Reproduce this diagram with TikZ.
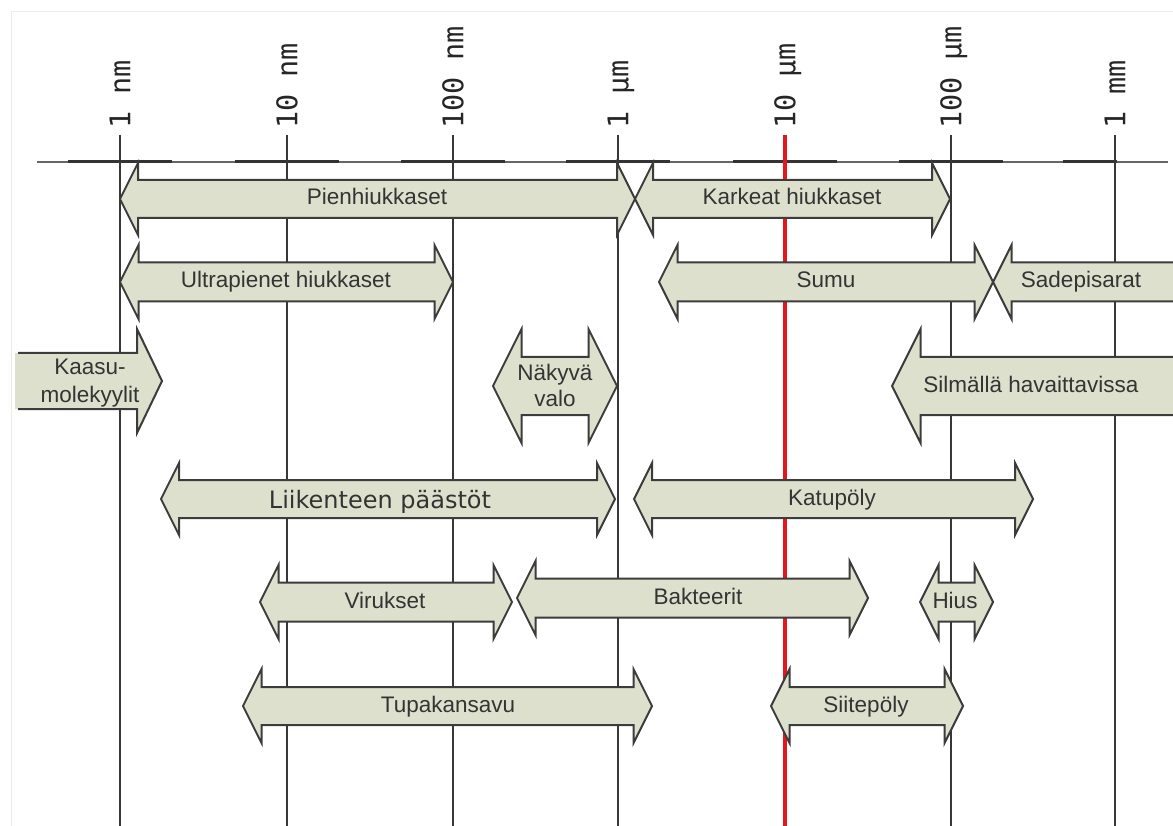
\documentclass[tikz,border=0pt]{standalone}
\usepackage{fontspec}
\setmainfont{Liberation Sans}
\newfontfamily\verafont{DejaVu Sans}
\newfontfamily\scalemono{DejaVu Sans Mono}

\definecolor{barfill}{RGB}{221,224,205}
\definecolor{barline}{RGB}{60,60,60}
\definecolor{gridline}{RGB}{55,55,55}
\definecolor{tenred}{RGB}{228,22,30}
\definecolor{labeltext}{RGB}{52,52,52}

\tikzset{
  bar/.style={fill=barfill, draw=barline, line width=2pt},
  barlabel/.style={text=labeltext, font=\fontsize{22.5}{28}\selectfont, inner sep=0pt, text height=16pt, text depth=0pt},
  twolabel/.style={text=labeltext, font=\fontsize{22.5}{28}\selectfont, inner sep=0pt, align=center},
  scalelabel/.style={font=\scalemono\fontsize{28.5}{30}\selectfont, rotate=90, anchor=base west, inner sep=0pt, text=black!85},
  gridl/.style={draw=gridline, line width=1.5pt},
  axisthin/.style={draw=black!60, line width=1.5pt},
  axisthick/.style={draw=black!80, line width=3pt},
}

% double arrow: left tip, right tip, y, shaft half height, head half height
\newcommand{\sizebar}[5]{%
  \filldraw[bar] (#1,#3) -- ++(#5/2,-#5) -- ++(0,#5-#4) -- (#2-#5/2,#3-#4) -- ++(0,#4-#5) -- (#2,#3)
    -- ++(-#5/2,#5) -- ++(0,#4-#5) -- (#1+#5/2,#3+#4) -- ++(0,#5-#4) -- cycle;}

\begin{document}
\begin{tikzpicture}[x=1pt,y=-1pt]

\useasboundingbox (0,0) rectangle (1173,826);
\clip (0,0) rectangle (1173,826);

\draw[black!8] (11,826) -- (11,11) -- (1173,11);

%%%%%%%%%%%%%%%%%%%%%%%%
% scale
%%%%%%%%%%%%%%%%%%%%%%%%

\draw[axisthin] (37,162) -- (1168,162);
\draw[axisthick] (68,162) -- (172,162);
\draw[axisthick] (235,162) -- (339,162);
\draw[axisthick] (401,162) -- (505,162);
\draw[axisthick] (566,162) -- (670,162);
\draw[axisthick] (733,162) -- (837,162);
\draw[axisthick] (899,162) -- (1003,162);
\draw[axisthick] (1063,162) -- (1117,162);

\draw[gridl] (120,135) -- (120,826);
\draw[gridl] (287,135) -- (287,826);
\draw[gridl] (453,135) -- (453,826);
\draw[gridl] (618,135) -- (618,826);
\draw[gridl] (951,135) -- (951,826);
\draw[gridl] (1115,135) -- (1115,826);
\draw[tenred, line width=4pt] (785,135) -- (785,826);

\node[scalelabel](1nm) at (130.4,129) {1 nm};
\node[scalelabel](10nm) at (297.4,129) {10 nm};
\node[scalelabel](100nm) at (463.4,129) {100 nm};
\node[scalelabel](1um) at (628.4,129) {1 µm};
\node[scalelabel](10um) at (795.4,129) {10 µm};
\node[scalelabel](100um) at (961.4,129) {100 µm};
\node[scalelabel](1mm) at (1125.4,129) {1 mm};

%%%%%%%%%%%%%%%%%%%%%%%%
% rows 1 and 2
%%%%%%%%%%%%%%%%%%%%%%%%

\sizebar{120}{635}{199}{19}{36}
\sizebar{635}{950}{199}{19}{36}
\node[barlabel](pien) at (377,197) {Pienhiukkaset};
\node[barlabel](karkeat) at (792,197) {Karkeat hiukkaset};

\sizebar{120}{453}{282}{19.5}{37}
\sizebar{659}{993}{282}{19.5}{37}
\sizebar{993}{1260}{282}{19.5}{37}
\node[barlabel](ultra) at (286,280) {Ultrapienet hiukkaset};
\node[barlabel](sumu) at (826,280) {Sumu};
\node[barlabel](sade) at (1081,280) {Sadepisarat};

%%%%%%%%%%%%%%%%%%%%%%%%
% row 3
%%%%%%%%%%%%%%%%%%%%%%%%

\fill[barfill] (15,353) -- (137,353) -- (137,329) -- (162,381) -- (137,433) -- (137,409) -- (15,409) -- cycle;
\draw[bar, fill=none] (18,353) -- (137,353) -- (137,329) -- (162,381) -- (137,433) -- (137,409) -- (18,409);
\node[twolabel](kaasu) at (90,383.5) {Kaasu-\\molekyylit};

\sizebar{493}{617}{386}{29}{57}
\node[twolabel, font=\fontsize{22.5}{26}\selectfont](nakyva) at (555,385) {Näkyvä\\valo};

\sizebar{892}{1260}{386}{29}{57}
\node[barlabel](silma) at (1031,384) {Silmällä havaittavissa};

%%%%%%%%%%%%%%%%%%%%%%%%
% row 4
%%%%%%%%%%%%%%%%%%%%%%%%

\sizebar{161}{615}{499}{19}{36}
\sizebar{634}{1033}{499}{19}{36}
\node[barlabel, font=\verafont\fontsize{24}{28}\selectfont, text height=17.5pt, text=black!80](liikenne) at (380,500) {Liikenteen päästöt};
\node[barlabel](katu) at (832,497) {Katupöly};

%%%%%%%%%%%%%%%%%%%%%%%%
% rows 5 and 6
%%%%%%%%%%%%%%%%%%%%%%%%

\sizebar{260}{512}{602}{19.5}{37}
\sizebar{517}{868}{598}{19.5}{37}
\sizebar{920}{993}{602}{19.5}{37}
\node[barlabel](virus) at (385,600) {Virukset};
\node[barlabel](bakt) at (698,596) {Bakteerit};
\node[barlabel](hius) at (955,600) {Hius};

\sizebar{243}{652}{706}{19}{37}
\sizebar{771}{963}{706}{19}{37}
\node[barlabel](tupakka) at (448,704) {Tupakansavu};
\node[barlabel](siite) at (866,704) {Siitepöly};

\end{tikzpicture}
\end{document}
